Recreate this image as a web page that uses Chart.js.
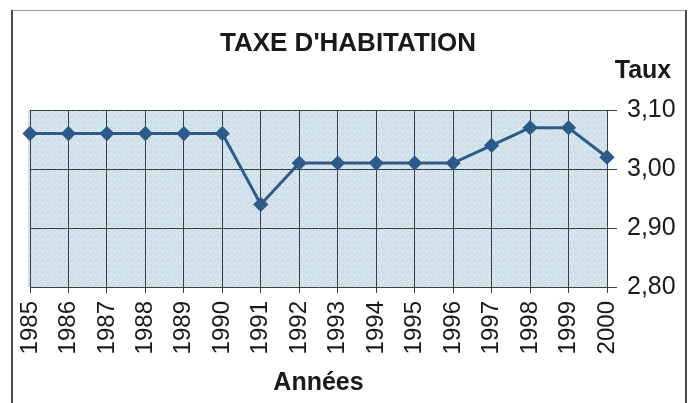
<!DOCTYPE html>
<html>
<head>
<meta charset="utf-8">
<script src="https://cdn.jsdelivr.net/npm/chart.js@4/dist/chart.umd.min.js"></script>
<style>
  html, body { margin: 0; padding: 0; background: #fff; }
  #wrap { width: 688px; height: 403px; }
</style>
</head>
<body>
<div id="wrap"><canvas id="taxeChart" width="688" height="403"></canvas></div>
<script>
// data
var years = ['1985', '1986', '1987', '1988', '1989', '1990', '1991', '1992',
             '1993', '1994', '1995', '1996', '1997', '1998', '1999', '2000'];
var taux = [3.06, 3.06, 3.06, 3.06, 3.06, 3.06, 2.94, 3.01,
            3.01, 3.01, 3.01, 3.01, 3.04, 3.07, 3.07, 3.02];
var yTicks = [2.80, 2.90, 3.00, 3.10];

var chartTitle = "TAXE D'HABITATION";
var yTitle = 'Taux';
var xTitle = 'Années';

var FONT = "'Liberation Sans', Arial, sans-serif";
var LINE_COLOR = '#2c5b8a';
var GRID_COLOR = '#3c3f42';

// little speckled texture like the scanned plot area
function makePattern(ctx) {
    var p = document.createElement('canvas');
    p.width = 6;
    p.height = 6;
    var pc = p.getContext('2d');
    pc.fillStyle = '#d3e3ec';
    pc.fillRect(0, 0, 6, 6);
    pc.fillStyle = '#bfd2de';
    [[0, 0], [3, 1], [1, 3], [4, 4], [5, 2]].forEach(function (d) {
        pc.fillRect(d[0], d[1], 1, 1);
    });
    pc.fillStyle = '#e6eff4';
    [[2, 0], [5, 5], [0, 4], [3, 3]].forEach(function (d) {
        pc.fillRect(d[0], d[1], 1, 1);
    });
    return ctx.createPattern(p, 'repeat');
}

var frame = {
    id: 'frame',
    beforeDraw: function (chart) {
        var ctx = chart.ctx;
        var a = chart.chartArea;
        ctx.save();
        ctx.fillStyle = '#ffffff';
        ctx.fillRect(0, 0, chart.width, chart.height);
        ctx.fillStyle = makePattern(ctx);
        ctx.fillRect(a.left - 2, a.top, a.right - a.left + 2, a.bottom - a.top);

        // outer border
        ctx.strokeStyle = '#9a9a9a';
        ctx.lineWidth = 1;
        ctx.beginPath();
        ctx.moveTo(11, 10.5);
        ctx.lineTo(687, 10.5);
        ctx.stroke();
        ctx.strokeStyle = '#4a4a4a';
        ctx.lineWidth = 2;
        ctx.beginPath();
        ctx.moveTo(12, 10);
        ctx.lineTo(12, chart.height);
        ctx.moveTo(686, 10);
        ctx.lineTo(686, chart.height);
        ctx.stroke();
        ctx.restore();
    },
    afterDraw: function (chart) {
        var ctx = chart.ctx;
        ctx.save();
        ctx.fillStyle = '#1a1a1a';
        ctx.textAlign = 'center';
        ctx.textBaseline = 'middle';
        ctx.font = 'bold 26px ' + FONT;
        ctx.fillText(chartTitle, 348, 44);
        ctx.font = 'bold 25px ' + FONT;
        ctx.fillText(yTitle, 643, 71);
        ctx.restore();
    }
};

var ctx = document.getElementById('taxeChart').getContext('2d');
var taxeChart = new Chart(ctx, {
    type: 'line',
    data: {
        labels: years,
        datasets: [{
            label: 'Taux',
            data: taux,
            borderColor: LINE_COLOR,
            backgroundColor: LINE_COLOR,
            borderWidth: 3,
            tension: 0,
            pointStyle: 'rectRot',
            pointRadius: 5.5,
            pointBackgroundColor: LINE_COLOR,
            pointBorderColor: LINE_COLOR,
            fill: false
        }]
    },
    options: {
        responsive: false,
        animation: false,
        layout: {
            padding: { top: 110, left: 30, right: 0, bottom: 0 }
        },
        plugins: {
            legend: { display: false },
            title: { display: false },
            tooltip: { enabled: false }
        },
        scales: {
            x: {
                offset: false,
                grid: {
                    color: GRID_COLOR,
                    lineWidth: 1,
                    drawTicks: true,
                    tickLength: 6,
                    tickColor: GRID_COLOR
                },
                border: { display: false },
                ticks: {
                    minRotation: 90,
                    maxRotation: 90,
                    autoSkip: false,
                    padding: 8,
                    color: '#1a1a1a',
                    font: { family: FONT, size: 24 }
                },
                title: {
                    display: true,
                    text: xTitle,
                    color: '#1a1a1a',
                    font: { family: FONT, size: 25, weight: 'bold' },
                    padding: { top: 0, bottom: 5 }
                },
                afterFit: function (scale) {
                    scale.height = 116;
                }
            },
            y: {
                position: 'right',
                min: 2.8,
                max: 3.1,
                afterBuildTicks: function (scale) {
                    scale.ticks = yTicks.map(function (v) { return { value: v }; });
                },
                grid: {
                    color: GRID_COLOR,
                    lineWidth: 1,
                    drawTicks: true,
                    tickLength: 10,
                    tickColor: GRID_COLOR
                },
                border: { display: false },
                ticks: {
                    padding: 10,
                    color: '#1a1a1a',
                    font: { family: FONT, size: 25 },
                    callback: function (value) {
                        return Number(value).toFixed(2).replace('.', ',');
                    }
                },
                afterFit: function (scale) {
                    scale.width = 81;
                }
            }
        }
    },
    plugins: [frame]
});
</script>
</body>
</html>
